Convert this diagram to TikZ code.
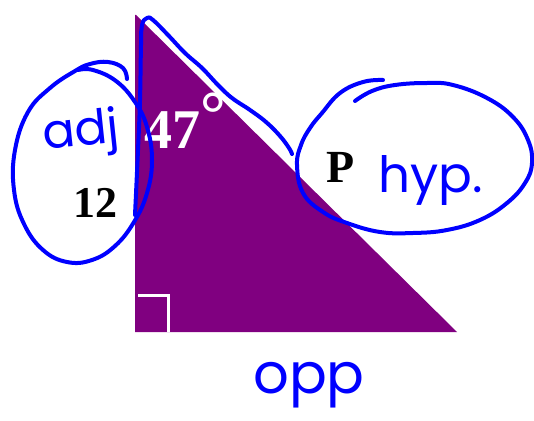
\documentclass[tikz,border=0pt]{standalone}
\usepackage{fontspec}
\setmainfont{Liberation Serif}
\newfontfamily\handfont{Poppins}
\usepackage{tikz}
\usepackage{xcolor}
\definecolor{tripurple}{RGB}{128,0,128}
\definecolor{penblue}{RGB}{0,0,255}

\begin{document}
\begin{tikzpicture}[x=1pt, y=-1pt,
    pen/.style={draw=penblue, line width=4pt, line cap=round, line join=round},
    printed/.style={inner sep=0pt, anchor=base west, font=\bfseries\fontsize{44}{44}\selectfont},
    hand/.style={inner sep=0pt, anchor=base west, text=penblue, font=\handfont\fontsize{52}{52}\selectfont}
]
    \useasboundingbox (0,0) rectangle (534,420);

    % Triangle
    \coordinate (apex) at (136,15);
    \coordinate (corner) at (135,332);
    \coordinate (base) at (457,332);
    \fill[tripurple] (apex) -- (base) -- (corner) -- ++(0,-317) -- cycle;
    \draw[white, line width=3pt] (138,295.5) -- (168,295.5) -- (168,332);

    % Printed labels
    \node[printed, text=white, font=\bfseries\fontsize{56}{56}\selectfont] (angle) at (144,148) {47\raisebox{13pt}{\fontsize{64}{64}\selectfont °}};
    \node[printed] (side) at (73,217) {12};
    \node[printed, font=\bfseries\fontsize{46}{46}\selectfont] (pt) at (326,182) {P};

    % Pen notes
    \node[hand, rotate=6, font=\handfont\fontsize{48}{48}\selectfont] (adj) at (44,150) {adj};
    \node[hand, font=\handfont\fontsize{50}{50}\selectfont] (hyp) at (378,192) {hyp.};
    \node[hand, font=\handfont\fontsize{56}{56}\selectfont] (opp) at (253,393) {opp};

    % Pen strokes
    \draw[pen] plot[smooth, tension=0.7] coordinates {(127,79) (123,68) (108,62) (90,64) (75,71) (50,88) (28,112) (15,150) (14,190) (24,224) (43,250) (67,262) (92,260) (115,246) (134,222) (147,193) (152,160) (147,127) (135,102) (116,81) (93,70) (78,70)};
    \draw[pen] plot[smooth, tension=0.7] coordinates {(135,215) (138,150) (140,100) (141,45) (142,25) (147,18) (153,20) (168,35) (185,53) (202,68) (218,85) (232,98) (250,110) (266,122) (280,136) (289,148) (292,154)};
    \draw[pen] plot[smooth, tension=0.7] coordinates {(355,101) (372,91) (395,85) (427,83) (453,85) (487,98) (513,117) (528,140) (532,163) (525,183) (507,203) (480,220) (447,230) (413,233) (380,232) (347,223) (323,212) (303,193) (297,165) (301,145) (310,128) (322,113) (340,93) (363,82) (383,80)};

\end{tikzpicture}
\end{document}
